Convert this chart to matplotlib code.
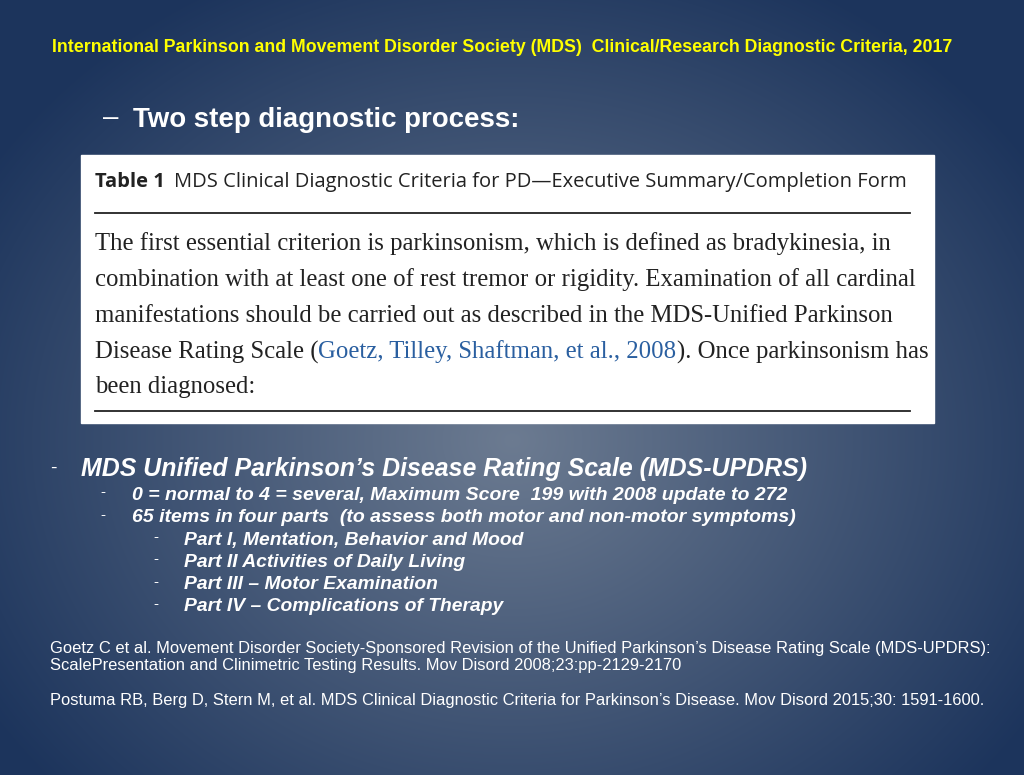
import numpy as np
import matplotlib
matplotlib.use("Agg")
import matplotlib.pyplot as plt
from matplotlib.patches import Rectangle

title = "International Parkinson and Movement Disorder Society (MDS)  Clinical/Research Diagnostic Criteria, 2017"
heading = "Two step diagnostic process:"
table_head_bold = "Table 1"
table_head = "MDS Clinical Diagnostic Criteria for PD\u2014Executive Summary/Completion Form"
table_lines = [
    "The first essential criterion is parkinsonism, which is defined as bradykinesia, in",
    "combination with at least one of rest tremor or rigidity. Examination of all cardinal",
    "manifestations should be carried out as described in the MDS-Unified Parkinson",
    None,
    "been diagnosed:",
]
line4 = ["Disease Rating Scale (", "Goetz, Tilley, Shaftman, et al., 2008", "). Once parkinsonism has"]
bullet1 = "MDS Unified Parkinson\u2019s Disease Rating Scale (MDS-UPDRS)"
bullets2 = ["0 = normal to 4 = several, Maximum Score  199 with 2008 update to 272",
            "65 items in four parts  (to assess both motor and non-motor symptoms)"]
bullets3 = ["Part I, Mentation, Behavior and Mood", "Part II Activities of Daily Living",
            "Part III \u2013 Motor Examination", "Part IV \u2013 Complications of Therapy"]
refs = ["Goetz C et al. Movement Disorder Society-Sponsored Revision of the Unified Parkinson\u2019s Disease Rating Scale (MDS-UPDRS):",
        "ScalePresentation and Clinimetric Testing Results. Mov Disord 2008;23:pp-2129-2170",
        "",
        "Postuma RB, Berg D, Stern M, et al. MDS Clinical Diagnostic Criteria for Parkinson\u2019s Disease. Mov Disord 2015;30: 1591-1600."]

W, H = 1024, 775
fig = plt.figure(figsize=(W/100, H/100), dpi=100)
ax = fig.add_axes([0, 0, 1, 1])
ax.set_xlim(0, W); ax.set_ylim(H, 0); ax.axis("off")

yy, xx = np.mgrid[0:H, 0:W]
r = np.sqrt(((xx-512)/620)**2 + ((yy-440)/520)**2)
t = np.clip(r, 0, 1)[..., None]
c0 = np.array([0x6c, 0x7b, 0x91]) / 255
c1 = np.array([0x1c, 0x34, 0x5c]) / 255
img = c0*(1-t) + c1*t
ax.imshow(img, extent=[0, W, H, 0], zorder=0, aspect="auto")

sans = "Liberation Sans"
ax.text(52, 48, title, color="#ffff00", fontsize=12.8, fontweight="bold", family=sans, va="center")
ax.text(103, 118, "\u2013", color="white", fontsize=20, family=sans, va="center")
ax.text(133, 120, heading, color="white", fontsize=19.9, fontweight="bold", family=sans, va="center")

ax.add_patch(Rectangle((81, 155), 853, 268, color="white", zorder=1))
ax.text(95, 182, table_head_bold, fontsize=14.5, fontweight="bold", family="Open Sans", va="center", color="#222", zorder=2)
ax.text(174, 182, table_head, fontsize=14.5, family="Open Sans", va="center", color="#222", zorder=2)
ax.plot([95, 910], [213, 213], color="#222", lw=1.3, zorder=2)
ax.plot([95, 910], [411, 411], color="#222", lw=1.3, zorder=2)
serif = "Liberation Serif"
fs = 17.8
ys = [244, 280, 316, 352, 387]
for y, ln in zip(ys, table_lines):
    if ln is not None:
        ax.text(95, y, ln, fontsize=fs, family=serif, va="center", color="#222", zorder=2)
    else:
        x = 95
        for seg, col in zip(line4, ["#222", "#2a5fa0", "#222"]):
            tx = ax.text(x, y, seg, fontsize=fs, family=serif, va="center", color=col, zorder=2)
            fig.canvas.draw()
            bb = tx.get_window_extent()
            x += bb.width

ax.text(50, 468, "-", color="white", fontsize=14, family=sans, va="center")
ax.text(81, 469, bullet1, color="white", fontsize=17.9, fontweight="bold", style="italic", family=sans, va="center")
for i, b in enumerate(bullets2):
    y = 495 + i*23
    ax.text(100, y-3, "-", color="white", fontsize=11, family=sans, va="center")
    ax.text(132, y, b, color="white", fontsize=14, fontweight="bold", style="italic", family=sans, va="center")
for i, b in enumerate(bullets3):
    y = 540 + i*22.3
    ax.text(153, y-3, "-", color="white", fontsize=11, family=sans, va="center")
    ax.text(184, y, b, color="white", fontsize=13.9, fontweight="bold", style="italic", family=sans, va="center")
for i, rl in enumerate(refs):
    ax.text(50, 648 + i*17.5, rl, color="white", fontsize=11.9, family=sans, va="center")

fig.savefig("out.png", dpi=100)
